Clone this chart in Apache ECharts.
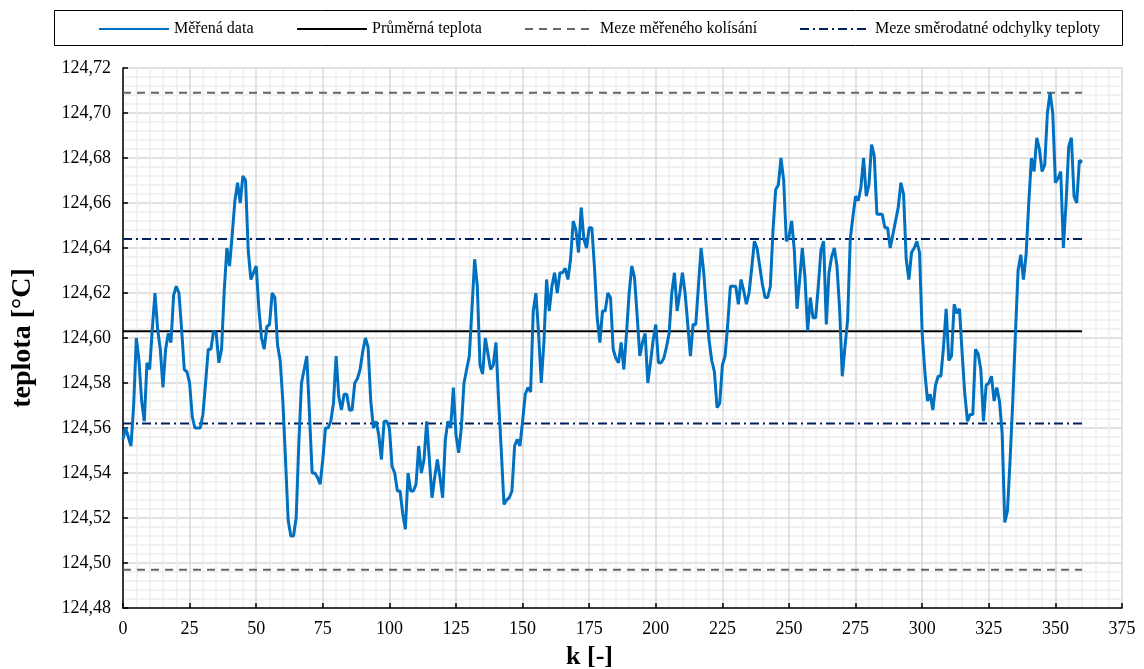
<!DOCTYPE html>
<html><head><meta charset="utf-8">
<script src="https://cdn.jsdelivr.net/npm/echarts@6/dist/echarts.min.js"></script>
<style>html,body{margin:0;padding:0;background:#fff}#c{width:1144px;height:669px}</style>
</head><body><div id="c"></div>
<script>
// k = index of the value (0 .. 360)
const temps = [
124.555,124.560,124.556,124.552,124.570,124.600,124.590,124.572,124.563,124.589,
124.586,124.604,124.620,124.604,124.595,124.578,124.595,124.602,124.598,124.619,
124.623,124.620,124.604,124.586,124.585,124.580,124.565,124.560,124.560,124.560,
124.566,124.580,124.595,124.595,124.603,124.602,124.589,124.595,124.621,124.640,
124.632,124.646,124.661,124.669,124.660,124.672,124.670,124.639,124.626,124.629,
124.632,124.613,124.600,124.595,124.605,124.606,124.620,124.618,124.597,124.590,
124.572,124.546,124.519,124.512,124.512,124.520,124.553,124.580,124.586,124.592,
124.566,124.540,124.540,124.538,124.535,124.546,124.560,124.560,124.563,124.571,
124.592,124.574,124.568,124.575,124.575,124.568,124.568,124.580,124.582,124.586,
124.594,124.600,124.596,124.572,124.560,124.563,124.557,124.546,124.563,124.563,
124.560,124.543,124.540,124.532,124.532,124.522,124.515,124.540,124.532,124.532,
124.535,124.552,124.540,124.546,124.563,124.546,124.529,124.538,124.546,124.538,
124.529,124.555,124.563,124.560,124.578,124.557,124.549,124.560,124.580,124.586,
124.592,124.613,124.635,124.623,124.588,124.584,124.600,124.593,124.586,124.588,
124.598,124.572,124.550,124.526,124.528,124.529,124.532,124.552,124.555,124.552,
124.563,124.575,124.578,124.576,124.612,124.620,124.602,124.580,124.598,124.626,
124.612,124.623,124.629,124.620,124.629,124.629,124.631,124.626,124.635,124.652,
124.648,124.638,124.658,124.644,124.640,124.649,124.649,124.631,124.609,124.598,
124.612,124.612,124.620,124.618,124.595,124.591,124.589,124.598,124.586,124.602,
124.620,124.632,124.627,124.610,124.592,124.598,124.602,124.580,124.589,124.599,
124.606,124.589,124.589,124.591,124.596,124.602,124.620,124.629,124.612,124.620,
124.629,124.620,124.606,124.592,124.606,124.606,124.623,124.640,124.629,124.613,
124.599,124.590,124.585,124.569,124.571,124.588,124.592,124.606,124.623,124.623,
124.623,124.615,124.626,124.621,124.615,124.620,124.631,124.643,124.640,124.632,
124.624,124.618,124.618,124.623,124.648,124.666,124.668,124.680,124.670,124.643,
124.645,124.652,124.639,124.613,124.626,124.640,124.627,124.603,124.618,124.609,
124.609,124.623,124.639,124.643,124.606,124.629,124.636,124.640,124.632,124.613,
124.583,124.596,124.608,124.644,124.654,124.663,124.661,124.667,124.680,124.663,
124.668,124.686,124.681,124.655,124.655,124.655,124.649,124.649,124.640,124.646,
124.652,124.658,124.669,124.664,124.635,124.626,124.638,124.640,124.643,124.638,
124.602,124.585,124.572,124.575,124.568,124.579,124.583,124.583,124.596,124.613,
124.590,124.592,124.615,124.611,124.613,124.593,124.575,124.563,124.566,124.566,
124.595,124.593,124.586,124.563,124.579,124.580,124.583,124.572,124.578,124.572,
124.558,124.518,124.523,124.546,124.572,124.602,124.630,124.637,124.626,124.637,
124.660,124.680,124.674,124.689,124.684,124.674,124.677,124.700,124.709,124.700,
124.669,124.671,124.674,124.640,124.660,124.685,124.689,124.663,124.660,124.679,
124.678
];
const meanTemp = 124.603;
const measuredLimits = [124.497, 124.709];
const sdLimits = [124.562, 124.644];
const kRange = [0, 360];
const legendNames = ['Měřená data', 'Průměrná teplota', 'Meze měřeného kolísání', 'Meze směrodatné odchylky teploty'];

const serif = '"Liberation Serif","Times New Roman",serif';
const measured = temps.map((v, i) => [i, v]);
const hline = v => [[kRange[0], v], [kRange[1], v]];

const chart = echarts.init(document.getElementById('c'));
const lineBase = {type: 'line', symbol: 'none', silent: true, animation: false};
const legendAt = (name, left) => ({
  data: [name], left: left, top: 21, padding: 0, itemWidth: 70, itemHeight: 14, itemGap: 0,
  itemStyle: {opacity: 0},
  textStyle: {fontFamily: serif, fontSize: 16, color: '#000'}, selectedMode: false
});
chart.setOption({
  animation: false,
  grid: {left: 123, right: 22, top: 68, bottom: 61, outerBoundsMode: 'none', containLabel: false},
  legend: [legendAt(legendNames[0], 98), legendAt(legendNames[1], 296), legendAt(legendNames[2], 524), legendAt(legendNames[3], 799)],
  graphic: [{type: 'rect', shape: {x: 54.5, y: 10.5, width: 1068, height: 35}, style: {fill: 'none', stroke: '#000', lineWidth: 1}, z: 100}],
  xAxis: {
    type: 'value', min: 0, max: 375, interval: 25,
    name: 'k [-]', nameLocation: 'middle', nameGap: 36,
    nameTextStyle: {fontFamily: serif, fontSize: 26, fontWeight: 'bold', color: '#000', padding: [0, 66, 0, 0]},
    axisLine: {lineStyle: {color: '#000', width: 1.5}},
    axisTick: {inside: true, length: 5, lineStyle: {color: '#000', width: 1.5}},
    axisLabel: {fontFamily: serif, fontSize: 18, color: '#000', margin: 12},
    splitLine: {show: true, lineStyle: {color: '#d9d9d9', width: 1.5}},
    minorTick: {show: false, splitNumber: 5},
    minorSplitLine: {show: true, lineStyle: {color: '#eeeeee', width: 1.5}}
  },
  yAxis: {
    type: 'value', min: 124.48, max: 124.72, interval: 0.02,
    name: 'teplota [°C]', nameLocation: 'middle', nameGap: 86, nameRotate: 90,
    nameTextStyle: {fontFamily: serif, fontSize: 28, fontWeight: 'bold', color: '#000'},
    axisLine: {show: true, lineStyle: {color: '#000', width: 1.5}},
    axisTick: {show: true, inside: true, length: 5, lineStyle: {color: '#000', width: 1.5}},
    axisLabel: {fontFamily: serif, fontSize: 18, color: '#000', margin: 12,
      formatter: v => v.toFixed(2).replace('.', ',')},
    splitLine: {show: true, lineStyle: {color: '#d9d9d9', width: 1.5}},
    minorTick: {show: false, splitNumber: 5},
    minorSplitLine: {show: true, lineStyle: {color: '#eeeeee', width: 1.5}}
  },
  series: [
    Object.assign({}, lineBase, {name: legendNames[2], data: hline(measuredLimits[0]), z: 3,
      lineStyle: {color: '#666666', width: 2, type: [8, 6]}, itemStyle: {color: '#666666'}}),
    Object.assign({}, lineBase, {name: legendNames[2], data: hline(measuredLimits[1]), z: 3,
      lineStyle: {color: '#666666', width: 2, type: [8, 6]}, itemStyle: {color: '#666666'}}),
    Object.assign({}, lineBase, {name: legendNames[3], data: hline(sdLimits[0]), z: 3,
      lineStyle: {color: '#002060', width: 2, type: [9, 4, 2, 4]}, itemStyle: {color: '#002060'}}),
    Object.assign({}, lineBase, {name: legendNames[3], data: hline(sdLimits[1]), z: 3,
      lineStyle: {color: '#002060', width: 2, type: [9, 4, 2, 4]}, itemStyle: {color: '#002060'}}),
    Object.assign({}, lineBase, {name: legendNames[1], data: hline(meanTemp), z: 4,
      lineStyle: {color: '#000000', width: 1.8}, itemStyle: {color: '#000000'}}),
    Object.assign({}, lineBase, {name: legendNames[0], data: measured, z: 5,
      lineStyle: {color: '#0070C0', width: 3}, itemStyle: {color: '#0070C0'}})
  ]
});
</script></body></html>
